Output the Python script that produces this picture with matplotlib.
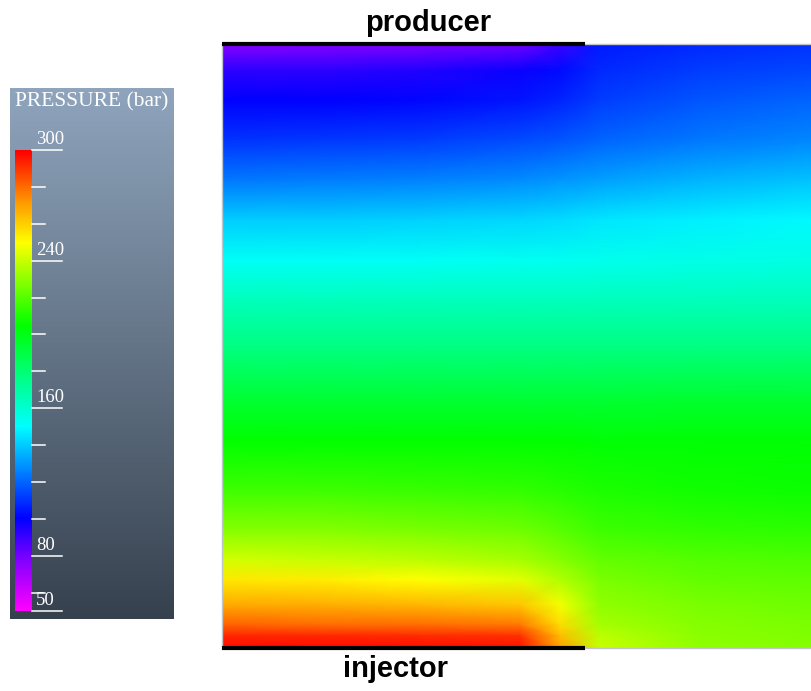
import matplotlib.pyplot as plt
import numpy as np
from matplotlib.colors import LinearSegmentedColormap, Normalize, to_rgb

# pressure field sampled on a coarse grid (x: fraction of section width,
# y: fraction of section height from the injector side)
x_cols = [0.0, 0.166, 0.335, 0.505, 0.573, 0.64, 0.81, 1.0]
y_rows = [1.0, 0.957, 0.907, 0.841, 0.775, 0.709, 0.642, 0.576, 0.493,
          0.411, 0.344, 0.262, 0.195, 0.146, 0.113, 0.071, 0.038, 0.02, 0.0]
pressure = [
    [76, 77, 78, 80, 90, 105, 108, 110],
    [92, 92, 94, 98, 102, 108, 112, 114],
    [100, 100, 101, 104, 107, 112, 117, 120],
    [110, 111, 112, 115, 117, 120, 124, 127],
    [124, 125, 126, 128, 130, 132, 135, 138],
    [140, 140, 141, 142, 143, 145, 147, 149],
    [152, 152, 152, 153, 153, 154, 155, 156],
    [165, 165, 165, 165, 165, 165, 165, 165],
    [178, 178, 178, 178, 178, 178, 178, 178],
    [194, 194, 194, 194, 194, 194, 195, 195],
    [205, 205, 205, 205, 205, 204, 204, 204],
    [216, 216, 215, 214, 212, 210, 208, 207],
    [228, 228, 226, 224, 220, 216, 214, 213],
    [242, 240, 238, 234, 228, 222, 219, 218],
    [255, 254, 250, 245, 236, 226, 222, 221],
    [268, 267, 265, 262, 248, 230, 226, 224],
    [282, 280, 280, 278, 258, 234, 228, 226],
    [293, 293, 292, 291, 264, 238, 229, 227],
    [298, 298, 298, 297, 270, 240, 230, 228],
]

# wells span the left part of the top and bottom boundaries
well_x = (0.0, 0.615)

p_min, p_max = 50, 300
tick_values = [60, 80, 100, 120, 140, 160, 180, 200, 220, 240, 260, 280, 300]
tick_labels = {300: "300", 240: "240", 160: "160", 80: "80", 50: "50"}

# rainbow map: magenta -> blue -> cyan -> green -> yellow -> red
cmap_stops = [(50, "#ff00ff"), (76, "#8800ff"), (100, "#0000ff"), (150, "#00ffff"),
              (205, "#00ff00"), (250, "#ffff00"), (272, "#ff9900"), (300, "#ff0000")]
cmap = LinearSegmentedColormap.from_list(
    "pressure", [((v - p_min) / (p_max - p_min), c) for v, c in cmap_stops])
norm = Normalize(p_min, p_max)

W, H = 812, 691
fig = plt.figure(figsize=(W / 100, H / 100), dpi=100)


def px_axes(x0, y0, x1, y1):
    # axes from pixel box (top-left origin)
    return fig.add_axes([x0 / W, 1 - y1 / H, (x1 - x0) / W, (y1 - y0) / H])


# field
ax = px_axes(222, 44, 812, 648)
X, Y = np.meshgrid(x_cols, y_rows)
ax.pcolormesh(X, Y, np.array(pressure, dtype=float), shading="gouraud",
              cmap=cmap, norm=norm)
ax.set_xlim(0, 1)
ax.set_ylim(0, 1)
ax.set_xticks([])
ax.set_yticks([])
for s in ax.spines.values():
    s.set_color("#c0c4cc")
    s.set_linewidth(1)
ax.plot(well_x, [1, 1], color="black", lw=3, clip_on=False,
        solid_capstyle="butt", zorder=5)
ax.plot(well_x, [0, 0], color="black", lw=3, clip_on=False,
        solid_capstyle="butt", zorder=5)

fig.text(428 / W, 1 - 23 / H, "producer", ha="center", va="center",
         fontsize=21, fontweight="bold", family="Liberation Sans")
fig.text(396 / W, 1 - 669 / H, "injector", ha="center", va="center",
         fontsize=21, fontweight="bold", family="Liberation Sans")

# legend panel with vertical grey gradient
panel = px_axes(10, 88, 174, 619)
top, bot = np.array(to_rgb("#8fa5bd")), np.array(to_rgb("#36414e"))
t = np.linspace(0, 1, 256)[:, None]
grad = top[None, :] * (1 - t) + bot[None, :] * t
panel.imshow(grad[:, None, :], aspect="auto", extent=[0, 1, 0, 1])
panel.set_axis_off()
panel.text(0.5, 1 - 14 / 531, "PRESSURE (bar)", ha="center", va="center",
           color="white", fontsize=15.5, family="Liberation Serif")

# colour bar
cax = px_axes(15, 150, 32, 611)
vals = np.linspace(p_min, p_max, 512)[:, None]
cax.imshow(vals, cmap=cmap, norm=norm, origin="lower", aspect="auto",
           extent=[0, 1, p_min, p_max])
cax.set_xlim(0, 1)
cax.set_ylim(p_min, p_max)
cax.set_axis_off()
tr = cax.get_yaxis_transform()
for v in tick_values + [50]:
    x_end = 2.75 if v in tick_labels else 1.75
    cax.plot([1.0, x_end], [v, v], color="white", lw=1.1, transform=tr,
             clip_on=False)
    if v in tick_labels:
        cax.text(1.25, v + 1.0, tick_labels[v], transform=tr, ha="left",
                 va="bottom", color="white", fontsize=13.5, family="Liberation Serif")

fig.savefig("out.png", dpi=100)
